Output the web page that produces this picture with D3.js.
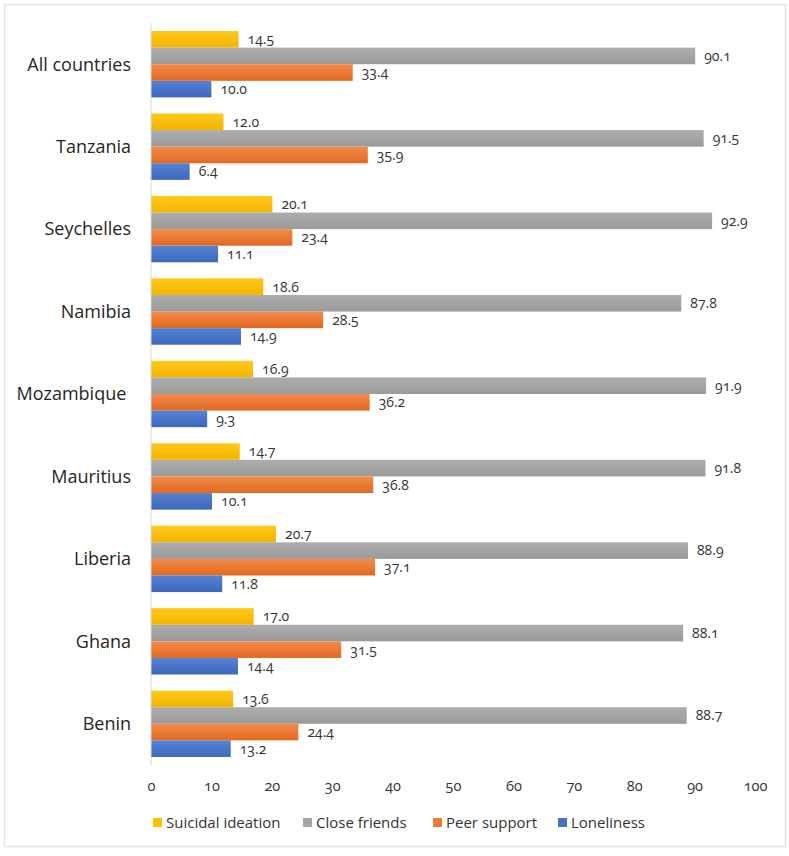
<!DOCTYPE html>
<html><head><meta charset="utf-8">
<script src="https://cdn.jsdelivr.net/npm/d3@7"></script>
<style>
body{margin:0;background:#fff;}
text{font-family:"Open Sans",sans-serif;font-variant-numeric:oldstyle-nums;}
</style></head><body>
<svg id="c" width="789" height="856"></svg>
<script>
const categories = ["All countries","Tanzania","Seychelles","Namibia","Mozambique ","Mauritius","Liberia","Ghana","Benin"];
const seriesNames = ["Suicidal ideation","Close friends","Peer support","Loneliness"];
const suicidalIdeation = [14.5,12.0,20.1,18.6,16.9,14.7,20.7,17.0,13.6];
const closeFriends = [90.1,91.5,92.9,87.8,91.9,91.8,88.9,88.1,88.7];
const peerSupport = [33.4,35.9,23.4,28.5,36.2,36.8,37.1,31.5,24.4];
const loneliness = [10.0,6.4,11.1,14.9,9.3,10.1,11.8,14.4,13.2];
const xTicks = [0,10,20,30,40,50,60,70,80,90,100];

const seriesValues = [suicidalIdeation, closeFriends, peerSupport, loneliness];
const colors = [["#FFC81A","#F2B500"],["#ADADAD","#9A9A9A"],["#F28B4E","#E2691E"],["#5583D3","#3D67BC"]];
const legendColors = ["#FFC000","#A5A5A5","#ED7D31","#4472C4"];

const svg = d3.select("#c");
svg.append("rect").attr("x",4.5).attr("y",4.5).attr("width",781).attr("height",842)
  .attr("fill","#fff").attr("stroke","#E3E3E8").attr("stroke-width",1.5);

const defs = svg.append("defs");
colors.forEach((c,i)=>{
  const g = defs.append("linearGradient").attr("id","g"+i).attr("x1",0).attr("y1",0).attr("x2",0).attr("y2",1);
  g.append("stop").attr("offset","0%").attr("stop-color",c[0]);
  g.append("stop").attr("offset","100%").attr("stop-color",c[1]);
});

const x = d3.scaleLinear().domain([0,100]).range([151,755]);
const y = d3.scaleBand().domain(categories).range([23,765]).paddingInner(0.195).paddingOuter(0.0975);
const y1 = d3.scaleBand().domain(seriesNames).range([0,y.bandwidth()]);

const data = [];
categories.forEach((c,ci)=>{
  seriesNames.forEach((s,si)=>{
    data.push({cat:c,series:s,si:si,value:seriesValues[si][ci]});
  });
});

svg.append("g").selectAll("rect").data(data).join("rect")
  .attr("x",x(0))
  .attr("y",d=>y(d.cat)+y1(d.series))
  .attr("width",d=>x(d.value)-x(0))
  .attr("height",y1.bandwidth())
  .attr("fill",d=>"url(#g"+d.si+")");

svg.append("g").selectAll("text").data(data).join("text")
  .attr("x",d=>x(d.value)+9)
  .attr("y",d=>y(d.cat)+y1(d.series)+y1.bandwidth()/2)
  .attr("dy","0.35em")
  .attr("font-size",14)
  .attr("fill","#333")
  .text(d=>d.value.toFixed(1));

svg.append("line").attr("x1",x(0)).attr("x2",x(0)).attr("y1",23).attr("y2",765)
  .attr("stroke","#D9D9D9").attr("stroke-width",1);

svg.append("g").selectAll("text").data(categories).join("text")
  .attr("x",131)
  .attr("y",d=>y(d)+y.bandwidth()/2)
  .attr("dy","0.35em")
  .attr("text-anchor","end")
  .attr("font-size",18)
  .attr("fill","#262626")
  .attr("xml:space","preserve")
  .style("white-space","pre")
  .text(d=>d);

const xAxis = d3.axisBottom(x).tickValues(xTicks).tickSize(0).tickPadding(0);
const ax = svg.append("g").attr("transform","translate(0,786)").call(xAxis);
ax.select(".domain").remove();
ax.selectAll("text").attr("font-size",14.5).attr("fill","#333").attr("dy","0.35em")
  .style("font-family","'Open Sans',sans-serif");

const legendX = [153,303,433,558];
const lg = svg.append("g").selectAll("g").data(seriesNames).join("g")
  .attr("transform",(d,i)=>`translate(${legendX[i]},818)`);
lg.append("rect").attr("width",9).attr("height",9).attr("fill",(d,i)=>legendColors[i]);
lg.append("text").attr("x",13).attr("y",4.5).attr("dy","0.35em").attr("font-size",15)
  .attr("fill","#333").text(d=>d);
</script>
</body></html>
